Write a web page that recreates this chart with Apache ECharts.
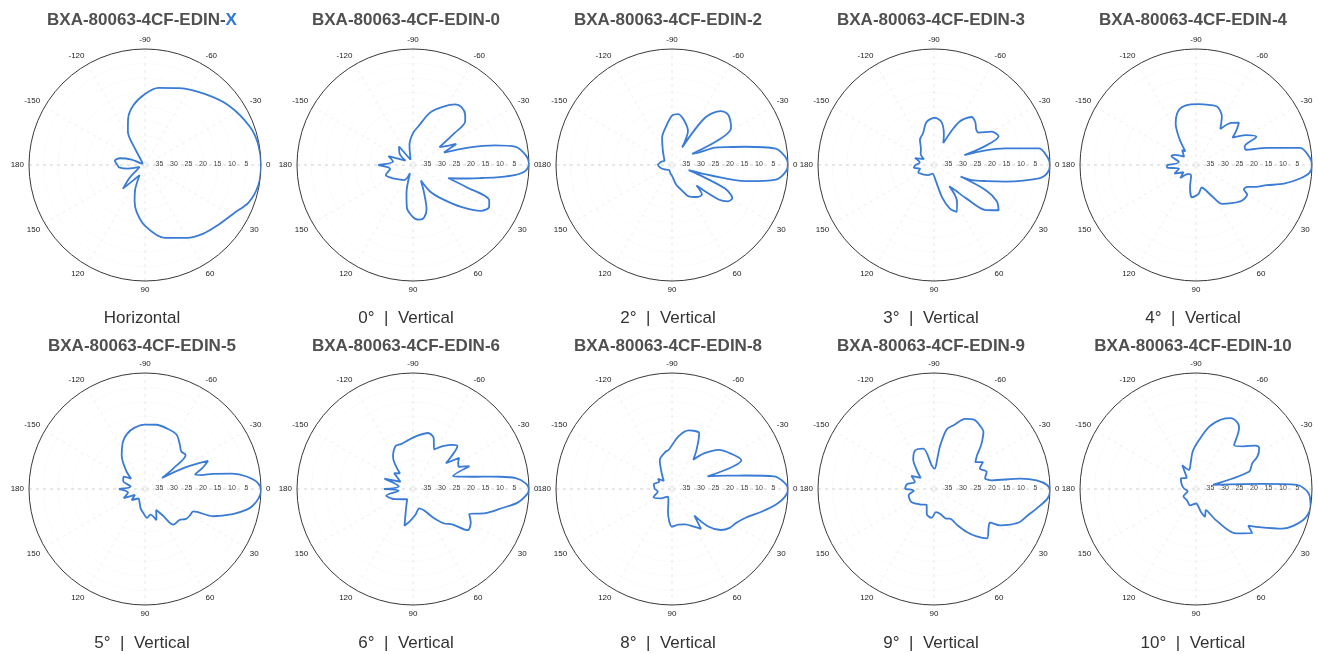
<!DOCTYPE html>
<html>
<head>
<meta charset="utf-8">
<title>BXA-80063-4CF-EDIN</title>
<script src="https://cdn.jsdelivr.net/npm/echarts@6/dist/echarts.min.js"></script>
<style>
    html, body { margin: 0; padding: 0; background: #fff; }
    #chart { width: 1317px; height: 654px; }
</style>
</head>
<body>
<div id="chart"></div>
<script>
// 方向图数据：[角度(度), 相对衰减(dB)]，0 dB 在外圈，40 dB 在圆心
const patX = [[-180,30.5],[-172,29.5],[-165,31],[-158,35],[-150,39],[-140,39],[-130,38],[-122,34],[-117,27],[-110,23],[-101,19],[-90,15.5],[-80,13],[-66,11],[-50,8],[-35,4.5],[-20,1.5],[-10,0.3],[0,0],[10,0.3],[20,2],[28,5],[40,7.5],[50,9],[60,11],[75,14],[90,19],[100,23.5],[106,27],[112,31],[118,36],[126,34],[133,29],[140,33],[150,37],[160,38],[168,34],[175,31],[180,30.5]];
const pat0 = [[-180,28],[-170,33],[-160,31],[-150,37],[-140,34],[-127,32],[-115,38],[-100,33],[-90,29],[-82,26.5],[-72,21],[-63,17.5],[-55,14.5],[-50,14],[-44,15],[-40,16.5],[-37.5,22],[-34,29],[-30,27],[-26,23.4],[-22,28.5],[-17.5,20],[-13.5,11],[-10,4],[-5,1],[-1,0],[3,1.2],[5.5,4.4],[8,10],[10.7,15.9],[15,22],[20.6,27],[22.5,20],[25,11],[29,10],[34,11.7],[41,18],[50,25],[57,29],[63,34],[68,30],[73,24],[78,21.5],[83,21],[88,21.5],[93,23],[98,25],[103,30],[110,37],[120,34],[135,33],[148,31.5],[160,30],[170,32],[180,28]];
const pat2 = [[-180,35],[-165,36],[-150,37],[-135,36],[-122,34],[-110,30],[-100,27],[-90,23],[-83,22.3],[-75,24],[-65,27],[-60,33],[-55,20],[-48,15],[-42,14],[-36,15],[-32,16],[-29,32],[-25,30],[-22,24],[-18,20],[-14,14],[-9,3.8],[-4,0.8],[0,0],[4,1],[8,3.8],[12.4,14],[15,26],[17,34],[20,30],[24,20],[28.7,16.3],[33,17],[36.5,20],[40,29],[44.6,25.5],[52,26],[58,27],[63,28],[70,31],[78,33],[88,36],[100,37],[120,38],[150,37],[165,36],[180,35]];
const pat3 = [[-180,33.5],[-170,35],[-160,33],[-150,36],[-140,34],[-130,33],[-119,30],[-109,28.4],[-100,25],[-89,23.7],[-80,25],[-72,29],[-67,31.8],[-60,23],[-52,19],[-46,19.5],[-40,21],[-36,21],[-30,17],[-24,15.6],[-20,22],[-18,29],[-16,22],[-13,14.6],[-9,3.3],[-4,0.8],[0,0],[4,0.8],[7.3,3.5],[13,14.6],[17,21],[21.7,26],[23.5,30],[26,20],[30,15],[35,12.8],[41,16.3],[46,24],[50,28.6],[54,31],[58,25],[64,22],[70,24],[76,28.6],[85,35],[100,37],[120,36],[140,35],[155,34],[165,35],[172,33],[180,33.5]];
const pat4 = [[-180,30],[-170,34],[-160,31],[-154,32],[-145,35],[-133,33],[-128,34],[-122,29],[-116,24],[-110,21],[-104,19.5],[-95,19],[-88,19],[-78,18.8],[-70,18.6],[-62,21],[-56,25],[-50,21],[-44.6,19.2],[-40,22],[-36.8,24.3],[-31,20],[-25,17],[-21,22],[-17,22],[-13.6,15],[-9.3,3.6],[-4,0.8],[0,0],[4,0.8],[7.4,3.8],[12,9],[16,14.7],[20,18],[23,20.7],[27,21.5],[30,19.6],[38,20],[47,22],[56,23.8],[63,28],[70,31],[76,32],[85,30],[97,28.8],[105,32],[115,36],[130,36],[140,33],[150,35],[158,32],[168,34],[175,30],[180,30]];
const pat5 = [[-180,31],[-170,35],[-160,32],[-150,31.5],[-143,34],[-136,31],[-125,26],[-115,22],[-108,20],[-100,18.6],[-90,17.8],[-80,17.5],[-70,17.8],[-60,18.3],[-52,20.5],[-46,22],[-40,21.7],[-36,28],[-33,33],[-28,24],[-24,16.2],[-20,19],[-16,22],[-13.8,20],[-12.6,16],[-10,9.5],[-7,4.7],[-3,1],[1,0],[5,0.8],[9,2.5],[11.5,4.2],[16,8.5],[21.8,14.7],[25,21.7],[30,22],[36,22.5],[42,24],[51.6,24.3],[56,29],[62,31.8],[70,28.5],[78,31],[86,30],[94,31.7],[102,33],[112,35],[125,36],[140,34],[150,36],[157,32],[168,34],[180,31]];
const pat6 = [[-180,30],[-170,35],[-160,29.5],[-150,35],[-140,31.5],[-130,33],[-122,27],[-112,24],[-105,24],[-95,23],[-85,21.5],[-75,20],[-68,21],[-62,24.5],[-55,22],[-48,19.5],[-44,18.7],[-40,23],[-38,25.6],[-34,20.8],[-30,22],[-26,22.5],[-22,19],[-18,25.5],[-14,22.5],[-12,19.7],[-10,15.6],[-8,9.7],[-6,4.4],[-3,1.2],[0,0],[3,0.8],[7.4,3.6],[12,8.5],[18.4,13.6],[24,18.8],[30,17],[37,16.4],[42,21.8],[48,24],[55,28],[62,31.5],[72,33],[85,31],[95,29],[103,27],[110,33],[120,36],[135,35],[150,33],[157,31.8],[166,30.5],[173,35],[180,30]];
const pat8 = [[-180,34],[-165,33.5],[-150,35],[-144,34],[-135,36],[-125,34],[-113,29.2],[-100,27],[-95,26.5],[-83,21.7],[-74,19],[-64,18.6],[-58,24],[-54,27.5],[-48,23.5],[-40,19],[-30,16],[-22.6,14.1],[-19.5,27],[-17,24.5],[-13,19.5],[-10.3,14],[-7,4.5],[-3,1],[0,0],[4,1],[8.3,3.6],[14,8],[21,12.6],[28,15],[34,16],[40,18],[46,22],[50,28],[54,23],[60,25],[70,27],[80,27.5],[90,27],[100,32],[108,36],[120,37],[140,35],[156,33],[170,35],[180,34]];
const pat9 = [[-180,30],[-170,30.5],[-160,33],[-150,31],[-140,34],[-132,31],[-125,27.5],[-116,25.2],[-105,25.6],[-95,32],[-88,33],[-84,30],[-82,25],[-78,19],[-73,17],[-66,13.5],[-60,12.4],[-54,13],[-49,14],[-45,16.5],[-42,18.5],[-38,21.2],[-33,23],[-28.7,20.7],[-24,22.7],[-18,20.9],[-12,22],[-8.6,19.9],[-6.8,10],[-4.8,4.5],[-2,1],[1,0],[5,0.8],[10.8,4],[16,6.5],[21,8.3],[25,11],[28.8,14],[31,17.5],[35,17],[43,15],[48,18],[52.7,21.4],[57,25],[62,28.4],[68,29],[75,31],[85,32],[95,30],[106,31],[115,34],[130,33],[150,31],[166,31],[175,33],[180,30]];
const pat10 = [[-180,36],[-165,35],[-145,33.6],[-130,35],[-120,30.5],[-110,33],[-102,31],[-95,27],[-86.5,23.1],[-78,18],[-70,14.5],[-64,12.8],[-58,13],[-54.7,14.3],[-49,20],[-42,18],[-36,14.5],[-33,14],[-28,16],[-24.5,18.7],[-18,20.8],[-14,34],[-4.3,16.8],[-2.3,5.2],[2,1.2],[8.9,0],[16.3,1.6],[24.6,7.2],[32.3,15.6],[35,18],[38.2,15.3],[48,19.4],[57.6,27.4],[65,32],[72,30],[78,32],[90,35],[110,34],[128,35],[150,35],[165,37],[180,36]];

const patterns = [patX, pat0, pat2, pat3, pat4, pat5, pat6, pat8, pat9, pat10];
const suffixes = ['X', '0', '2', '3', '4', '5', '6', '8', '9', '10'];
const captions = ['Horizontal', '0°  |  Vertical', '2°  |  Vertical', '3°  |  Vertical', '4°  |  Vertical',
    '5°  |  Vertical', '6°  |  Vertical', '8°  |  Vertical', '9°  |  Vertical', '10°  |  Vertical'];
// 刻度
const radiusMax = 40;
const radiusStep = 5;
const angleStep = 30;

// 布局
let centerX = [145, 413, 672, 934, 1196];
let centerY = [165, 489];
let textX = [142, 406, 668, 931, 1193];
let titleY = [20, 346];
let captionY = [318, 643];
let R = 116;
let lineColor = '#3a7bd5';

let chart = echarts.init(document.getElementById('chart'));

let polar = [], angleAxis = [], radiusAxis = [], series = [], graphic = [];
patterns.forEach((pat, i) => {
    let col = i % 5, row = Math.floor(i / 5);
    polar.push({ center: [centerX[col], centerY[row]], radius: R });
    angleAxis.push({
        polarIndex: i,
        type: 'value',
        min: 0,
        max: 360,
        interval: angleStep,
        startAngle: 0,
        clockwise: true,
        axisLine: { lineStyle: { color: '#3a3a3a', width: 1 } },
        axisTick: { show: false },
        axisLabel: {
            fontSize: 8,
            color: '#222',
            margin: 5,
            fontFamily: 'Liberation Sans',
            formatter: v => v === 360 ? '' : String(v > 180 ? v - 360 : v)
        },
        // 只有水平线比较明显，其余很淡
        splitLine: {
            show: true,
            lineStyle: {
                color: ['#c4c4c4', '#ececec', '#ececec', '#e2e2e2', '#ececec', '#ececec',
                        '#c4c4c4', '#ececec', '#ececec', '#e2e2e2', '#ececec', '#ececec'],
                type: [3, 4],
                width: 0.8
            }
        }
    });
    radiusAxis.push({
        polarIndex: i,
        type: 'value',
        min: 0,
        max: radiusMax,
        interval: radiusStep,
        inverse: true,
        axisLine: { show: false },
        axisTick: { show: false },
        axisLabel: {
            fontSize: 7,
            color: '#444',
            margin: -3,
            showMinLabel: false,
            showMaxLabel: false,
            fontFamily: 'Liberation Sans'
        },
        splitLine: { show: true, lineStyle: { color: '#f4f4f4', type: 'dotted', width: 0.8 } }
    });
    series.push({
        type: 'line',
        coordinateSystem: 'polar',
        polarIndex: i,
        showSymbol: false,
        smooth: 0.3,
        lineStyle: { color: lineColor, width: 1.8 },
        data: pat.map(p => [p[1], p[0] < 0 ? p[0] + 360 : p[0]])
    });
    // 标题
    let titleText = i === 0
        ? '{a|BXA-80063-4CF-EDIN-}{b|' + suffixes[i] + '}'
        : '{a|BXA-80063-4CF-EDIN-' + suffixes[i] + '}';
    graphic.push({
        type: 'text',
        x: textX[col],
        y: titleY[row],
        style: {
            text: titleText,
            align: 'center',
            verticalAlign: 'middle',
            rich: {
                a: { fontSize: 17, fontWeight: 'bold', fill: '#505050', fontFamily: 'Liberation Sans' },
                b: { fontSize: 17, fontWeight: 'bold', fill: '#2f7ad6', fontFamily: 'Liberation Sans' }
            }
        }
    });
    // 下方说明
    graphic.push({
        type: 'text',
        x: textX[col],
        y: captionY[row],
        style: {
            text: captions[i],
            align: 'center',
            verticalAlign: 'middle',
            fontSize: 17,
            fill: '#333',
            fontFamily: 'Liberation Sans'
        }
    });
});

let option = {
    animation: false,
    backgroundColor: '#fff',
    polar: polar,
    angleAxis: angleAxis,
    radiusAxis: radiusAxis,
    series: series,
    graphic: graphic
};
chart.setOption(option);
</script>
</body>
</html>
